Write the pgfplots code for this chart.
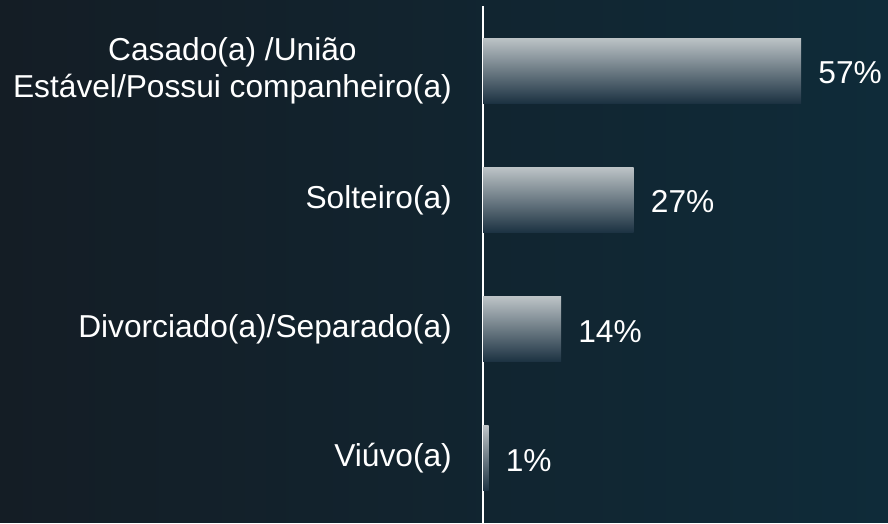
\documentclass[border=0pt]{standalone}
\usepackage{pgfplots}
\pgfplotsset{compat=1.18}
\usepackage{fontspec}
\setmainfont{Liberation Sans}
\definecolor{bgL}{HTML}{141D25}
\definecolor{bgR}{HTML}{0F2B39}
\definecolor{barT}{HTML}{BCC3C6}
\definecolor{barM}{HTML}{90969B}
\definecolor{barB}{HTML}{1C3242}
\begin{document}
\begin{tikzpicture}
\shade[left color=bgL, right color=bgR] (0pt,0pt) rectangle (888pt,523pt);
\begin{axis}[
  at={(483pt,0pt)}, anchor=south west,
  scale only axis, width=402pt, height=517pt,
  xmin=0, xmax=72, ymin=-0.5, ymax=3.5, y dir=reverse,
  axis x line=none,
  axis y line*=left,
  y axis line style={white, line width=1.5pt, -},
  ytick={0,1,2,3},
  yticklabels={{Casado(a) /União\\Estável/Possui companheiro(a)},{Solteiro(a)},{Divorciado(a)/Separado(a)},{Viúvo(a)}},
  yticklabel style={font=\fontsize{31.7}{36.5}\selectfont, text=white, align=center, inner sep=0pt, xshift=-31pt},
  major tick length=0pt,
  clip=false,
  no markers,
  /pgf/number format/assume math mode=true,
  nodes near coords={\pgfmathprintnumber{\pgfplotspointmeta}\%},
  nodes near coords style={font=\fontsize{31.7}{36}\selectfont, text=white, anchor=west, inner sep=0pt, xshift=17pt, yshift=-2pt},
  point meta=x,
  every axis plot post/.append style={xbar, bar width=65pt, bar shift=0pt, draw=none, mark=none, top color=barT, middle color=barM, bottom color=barB},
]
\addplot coordinates {(57,0)};
\addplot coordinates {(27,1)};
\addplot coordinates {(14,2)};
\addplot coordinates {(1,3)};
\end{axis}
\end{tikzpicture}
\end{document}
